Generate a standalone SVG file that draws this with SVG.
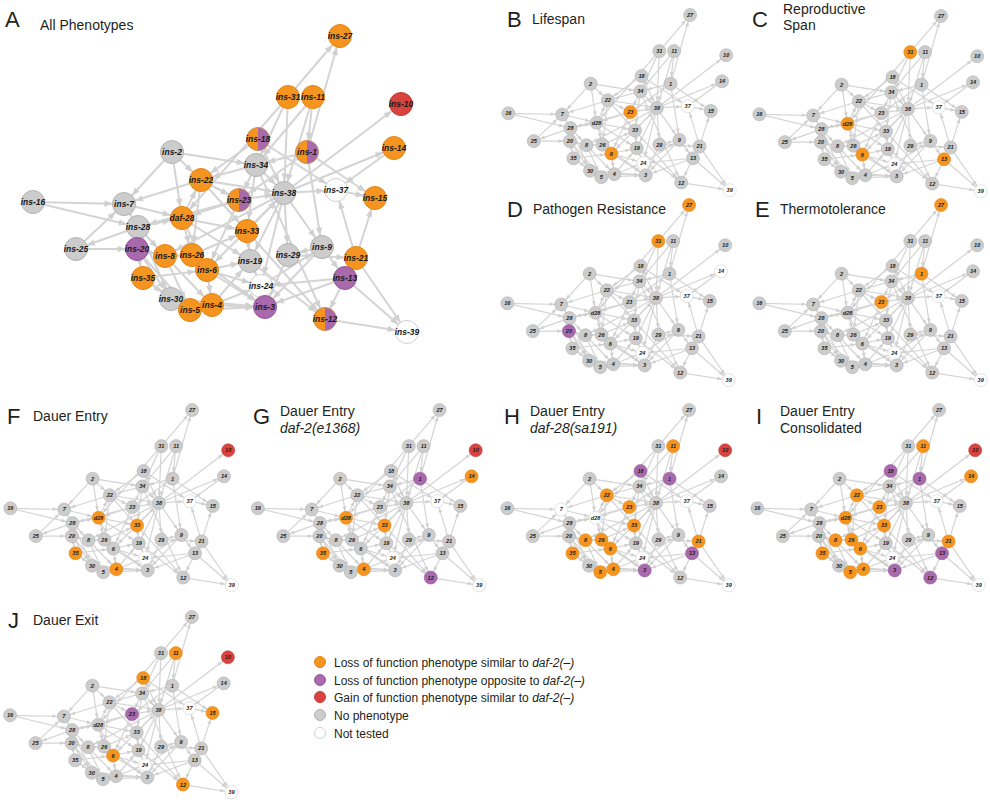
<svg xmlns="http://www.w3.org/2000/svg" xmlns:xlink="http://www.w3.org/1999/xlink" width="990" height="800" viewBox="0 0 990 800">
<defs>
<linearGradient id="half" x1="0" y1="0" x2="1" y2="0"><stop offset="0.5" stop-color="#F5951F"/><stop offset="0.5" stop-color="#A86AAD"/></linearGradient>
<marker id="arr" markerUnits="userSpaceOnUse" markerWidth="30" markerHeight="30" refX="19.5" refY="0" orient="auto" overflow="visible"><path d="M0,-3.2 L8,0 L0,3.2 Z" fill="#D0D0D0"/></marker>
</defs>
<style>
.lbl{font-family:"Liberation Sans",Arial,sans-serif;fill:#231f20}
.big{font-size:22px}
.ttl{font-size:14px}
.leg{font-size:12px}
.it{font-style:italic}
.nA text,.sm text{font-family:"Liberation Sans",Arial,sans-serif;font-weight:bold;font-style:italic;text-anchor:middle;dominant-baseline:central;fill:#1a1a1a}
.nA text{font-size:8.5px}
.sm text{font-size:9.5px}
circle{stroke-width:1}
.o{fill:#F5951F;stroke:#E38717}
.p{fill:#A86AAD;stroke:#96599B}
.r{fill:#D9433F;stroke:#C23A36}
.g{fill:#CCCCCC;stroke:#B3B3B3}
.w{fill:#FFFFFF;stroke:#D0D0D0}
.h{fill:url(#half);stroke:#C48C60}
#edges line{stroke:#D4D4D4;stroke-width:2;marker-end:url(#arr)}
</style>
<rect width="990" height="800" fill="#ffffff"/>

<!-- Panel labels -->
<g id="labels" class="lbl">
<text class="big" x="5" y="27">A</text><text class="ttl" x="40" y="30">All Phenotypes</text>
<text class="big" x="507" y="27">B</text><text class="ttl" x="532" y="24">Lifespan</text>
<text class="big" x="752" y="27">C</text><text class="ttl" x="783" y="14">Reproductive</text><text class="ttl" x="783" y="30">Span</text>
<text class="big" x="507" y="217">D</text><text class="ttl" x="533" y="214">Pathogen Resistance</text>
<text class="big" x="755" y="217">E</text><text class="ttl" x="780" y="214">Thermotolerance</text>
<text class="big" x="7" y="424">F</text><text class="ttl" x="33" y="421">Dauer Entry</text>
<text class="big" x="253" y="424">G</text><text class="ttl" x="280" y="416">Dauer Entry</text><text class="ttl it" x="280" y="433">daf-2(e1368)</text>
<text class="big" x="504" y="424">H</text><text class="ttl" x="530" y="416">Dauer Entry</text><text class="ttl it" x="530" y="433">daf-28(sa191)</text>
<text class="big" x="756" y="424">I</text><text class="ttl" x="780" y="416">Dauer Entry</text><text class="ttl" x="780" y="433">Consolidated</text>
<text class="big" x="8" y="628">J</text><text class="ttl" x="33" y="625">Dauer Exit</text>
</g>

<!-- Panel A connectors -->
<g id="edges">
<line x1="288" y1="97" x2="340" y2="36"/>
<line x1="307" y1="152" x2="340" y2="36"/>
<line x1="288" y1="97" x2="256" y2="165"/>
<line x1="288" y1="97" x2="284" y2="193"/>
<line x1="288" y1="97" x2="182" y2="218"/>
<line x1="313" y1="97" x2="256" y2="165"/>
<line x1="313" y1="97" x2="284" y2="193"/>
<line x1="313" y1="97" x2="307" y2="152"/>
<line x1="258" y1="139" x2="336" y2="190"/>
<line x1="258" y1="139" x2="284" y2="193"/>
<line x1="258" y1="139" x2="201" y2="180"/>
<line x1="307" y1="152" x2="375" y2="198"/>
<line x1="307" y1="152" x2="256" y2="165"/>
<line x1="307" y1="152" x2="322" y2="247"/>
<line x1="307" y1="152" x2="239" y2="200"/>
<line x1="284" y1="193" x2="401" y2="104"/>
<line x1="394" y1="148" x2="336" y2="190"/>
<line x1="284" y1="193" x2="394" y2="148"/>
<line x1="172" y1="152" x2="256" y2="165"/>
<line x1="172" y1="152" x2="201" y2="180"/>
<line x1="172" y1="152" x2="124" y2="204"/>
<line x1="172" y1="152" x2="182" y2="218"/>
<line x1="201" y1="180" x2="124" y2="204"/>
<line x1="201" y1="180" x2="239" y2="200"/>
<line x1="201" y1="180" x2="284" y2="193"/>
<line x1="201" y1="180" x2="192" y2="255"/>
<line x1="201" y1="180" x2="247" y2="231"/>
<line x1="256" y1="165" x2="284" y2="193"/>
<line x1="256" y1="165" x2="201" y2="180"/>
<line x1="256" y1="165" x2="239" y2="200"/>
<line x1="256" y1="165" x2="247" y2="231"/>
<line x1="256" y1="165" x2="325" y2="319"/>
<line x1="239" y1="200" x2="284" y2="193"/>
<line x1="239" y1="200" x2="182" y2="218"/>
<line x1="239" y1="200" x2="207" y2="270"/>
<line x1="239" y1="200" x2="138" y2="227"/>
<line x1="284" y1="193" x2="336" y2="190"/>
<line x1="284" y1="193" x2="322" y2="247"/>
<line x1="284" y1="193" x2="288" y2="255"/>
<line x1="284" y1="193" x2="250" y2="261"/>
<line x1="284" y1="193" x2="207" y2="270"/>
<line x1="284" y1="193" x2="261" y2="286"/>
<line x1="284" y1="193" x2="165" y2="256"/>
<line x1="336" y1="190" x2="375" y2="198"/>
<line x1="356" y1="258" x2="336" y2="190"/>
<line x1="356" y1="258" x2="375" y2="198"/>
<line x1="356" y1="258" x2="407" y2="332"/>
<line x1="33" y1="202" x2="124" y2="204"/>
<line x1="33" y1="202" x2="138" y2="227"/>
<line x1="76" y1="249" x2="124" y2="204"/>
<line x1="138" y1="227" x2="76" y2="249"/>
<line x1="76" y1="249" x2="137" y2="249"/>
<line x1="124" y1="204" x2="182" y2="218"/>
<line x1="124" y1="204" x2="138" y2="227"/>
<line x1="138" y1="227" x2="182" y2="218"/>
<line x1="138" y1="227" x2="165" y2="256"/>
<line x1="138" y1="227" x2="171" y2="299"/>
<line x1="182" y1="218" x2="201" y2="180"/>
<line x1="182" y1="218" x2="192" y2="255"/>
<line x1="182" y1="218" x2="207" y2="270"/>
<line x1="182" y1="218" x2="247" y2="231"/>
<line x1="182" y1="218" x2="250" y2="261"/>
<line x1="137" y1="249" x2="171" y2="299"/>
<line x1="137" y1="249" x2="165" y2="256"/>
<line x1="137" y1="249" x2="143" y2="278"/>
<line x1="137" y1="249" x2="190" y2="310"/>
<line x1="165" y1="256" x2="192" y2="255"/>
<line x1="165" y1="256" x2="212" y2="305"/>
<line x1="165" y1="256" x2="190" y2="310"/>
<line x1="192" y1="255" x2="207" y2="270"/>
<line x1="192" y1="255" x2="247" y2="231"/>
<line x1="192" y1="255" x2="265" y2="307"/>
<line x1="207" y1="270" x2="250" y2="261"/>
<line x1="207" y1="270" x2="261" y2="286"/>
<line x1="207" y1="270" x2="265" y2="307"/>
<line x1="207" y1="270" x2="212" y2="305"/>
<line x1="143" y1="278" x2="171" y2="299"/>
<line x1="143" y1="278" x2="207" y2="270"/>
<line x1="143" y1="278" x2="190" y2="310"/>
<line x1="171" y1="299" x2="190" y2="310"/>
<line x1="171" y1="299" x2="265" y2="307"/>
<line x1="190" y1="310" x2="265" y2="307"/>
<line x1="212" y1="305" x2="265" y2="307"/>
<line x1="212" y1="305" x2="250" y2="261"/>
<line x1="212" y1="305" x2="261" y2="286"/>
<line x1="247" y1="231" x2="250" y2="261"/>
<line x1="247" y1="231" x2="325" y2="319"/>
<line x1="247" y1="231" x2="284" y2="193"/>
<line x1="250" y1="261" x2="261" y2="286"/>
<line x1="250" y1="261" x2="325" y2="319"/>
<line x1="288" y1="255" x2="265" y2="307"/>
<line x1="288" y1="255" x2="356" y2="258"/>
<line x1="322" y1="247" x2="288" y2="255"/>
<line x1="322" y1="247" x2="345" y2="278"/>
<line x1="322" y1="247" x2="265" y2="307"/>
<line x1="261" y1="286" x2="322" y2="247"/>
<line x1="345" y1="278" x2="325" y2="319"/>
<line x1="345" y1="278" x2="407" y2="332"/>
<line x1="345" y1="278" x2="265" y2="307"/>
<line x1="345" y1="278" x2="261" y2="286"/>
<line x1="325" y1="319" x2="407" y2="332"/>
</g>

<!-- Panel A nodes -->
<g id="panelA-nodes" class="nA">
<g id="A-ins-27"><circle class="o" cx="340" cy="36" r="11.5"/><text x="340" y="36">ins-27</text></g>
<g id="A-ins-31"><circle class="o" cx="288" cy="97" r="11.5"/><text x="288" y="97">ins-31</text></g>
<g id="A-ins-11"><circle class="o" cx="313" cy="97" r="11.5"/><text x="313" y="97">ins-11</text></g>
<g id="A-ins-10"><circle class="r" cx="401" cy="104" r="11.5"/><text x="401" y="104">ins-10</text></g>
<g id="A-ins-18"><circle class="h" cx="258" cy="139" r="11.5"/><text x="258" y="139">ins-18</text></g>
<g id="A-ins-1"><circle class="h" cx="307" cy="152" r="11.5"/><text x="307" y="152">ins-1</text></g>
<g id="A-ins-14"><circle class="o" cx="394" cy="148" r="11.5"/><text x="394" y="148">ins-14</text></g>
<g id="A-ins-2"><circle class="g" cx="172" cy="152" r="11.5"/><text x="172" y="152">ins-2</text></g>
<g id="A-ins-34"><circle class="g" cx="256" cy="165" r="11.5"/><text x="256" y="165">ins-34</text></g>
<g id="A-ins-22"><circle class="o" cx="201" cy="180" r="11.5"/><text x="201" y="180">ins-22</text></g>
<g id="A-ins-23"><circle class="h" cx="239" cy="200" r="11.5"/><text x="239" y="200">ins-23</text></g>
<g id="A-ins-38"><circle class="g" cx="284" cy="193" r="11.5"/><text x="284" y="193">ins-38</text></g>
<g id="A-ins-37"><circle class="w" cx="336" cy="190" r="11.5"/><text x="336" y="190">ins-37</text></g>
<g id="A-ins-15"><circle class="o" cx="375" cy="198" r="11.5"/><text x="375" y="198">ins-15</text></g>
<g id="A-ins-16"><circle class="g" cx="33" cy="202" r="11.5"/><text x="33" y="202">ins-16</text></g>
<g id="A-ins-7"><circle class="g" cx="124" cy="204" r="11.5"/><text x="124" y="204">ins-7</text></g>
<g id="A-ins-28"><circle class="g" cx="138" cy="227" r="11.5"/><text x="138" y="227">ins-28</text></g>
<g id="A-daf-28"><circle class="o" cx="182" cy="218" r="11.5"/><text x="182" y="218">daf-28</text></g>
<g id="A-ins-33"><circle class="o" cx="247" cy="231" r="11.5"/><text x="247" y="231">ins-33</text></g>
<g id="A-ins-25"><circle class="g" cx="76" cy="249" r="11.5"/><text x="76" y="249">ins-25</text></g>
<g id="A-ins-20"><circle class="p" cx="137" cy="249" r="11.5"/><text x="137" y="249">ins-20</text></g>
<g id="A-ins-8"><circle class="o" cx="165" cy="256" r="11.5"/><text x="165" y="256">ins-8</text></g>
<g id="A-ins-26"><circle class="o" cx="192" cy="255" r="11.5"/><text x="192" y="255">ins-26</text></g>
<g id="A-ins-6"><circle class="o" cx="207" cy="270" r="11.5"/><text x="207" y="270">ins-6</text></g>
<g id="A-ins-19"><circle class="g" cx="250" cy="261" r="11.5"/><text x="250" y="261">ins-19</text></g>
<g id="A-ins-29"><circle class="g" cx="288" cy="255" r="11.5"/><text x="288" y="255">ins-29</text></g>
<g id="A-ins-9"><circle class="g" cx="322" cy="247" r="11.5"/><text x="322" y="247">ins-9</text></g>
<g id="A-ins-21"><circle class="o" cx="356" cy="258" r="11.5"/><text x="356" y="258">ins-21</text></g>
<g id="A-ins-13"><circle class="p" cx="345" cy="278" r="11.5"/><text x="345" y="278">ins-13</text></g>
<g id="A-ins-35"><circle class="o" cx="143" cy="278" r="11.5"/><text x="143" y="278">ins-35</text></g>
<g id="A-ins-24"><circle class="w" cx="261" cy="286" r="11.5"/><text x="261" y="286">ins-24</text></g>
<g id="A-ins-30"><circle class="g" cx="171" cy="299" r="11.5"/><text x="171" y="299">ins-30</text></g>
<g id="A-ins-4"><circle class="o" cx="212" cy="305" r="11.5"/><text x="212" y="305">ins-4</text></g>
<g id="A-ins-5"><circle class="o" cx="190" cy="310" r="11.5"/><text x="190" y="310">ins-5</text></g>
<g id="A-ins-3"><circle class="p" cx="265" cy="307" r="11.5"/><text x="265" y="307">ins-3</text></g>
<g id="A-ins-12"><circle class="h" cx="325" cy="319" r="11.5"/><text x="325" y="319">ins-12</text></g>
<g id="A-ins-39"><circle class="w" cx="407" cy="332" r="11.5"/><text x="407" y="332">ins-39</text></g>
</g>

<!-- Panel B -->
<g id="panelB" class="sm" transform="translate(488.8,-6.3) scale(0.592)">
<g id="B-connectors"><use href="#edges" xlink:href="#edges"/></g>
<g id="B-27"><circle class="g" cx="340" cy="36" r="11"/><text x="340" y="36">27</text></g>
<g id="B-31"><circle class="g" cx="288" cy="97" r="11"/><text x="288" y="97">31</text></g>
<g id="B-11"><circle class="g" cx="313" cy="97" r="11"/><text x="313" y="97">11</text></g>
<g id="B-10"><circle class="g" cx="401" cy="104" r="11"/><text x="401" y="104">10</text></g>
<g id="B-18"><circle class="g" cx="258" cy="139" r="11"/><text x="258" y="139">18</text></g>
<g id="B-1"><circle class="g" cx="307" cy="152" r="11"/><text x="307" y="152">1</text></g>
<g id="B-14"><circle class="g" cx="394" cy="148" r="11"/><text x="394" y="148">14</text></g>
<g id="B-2"><circle class="g" cx="172" cy="152" r="11"/><text x="172" y="152">2</text></g>
<g id="B-34"><circle class="g" cx="256" cy="165" r="11"/><text x="256" y="165">34</text></g>
<g id="B-22"><circle class="g" cx="201" cy="180" r="11"/><text x="201" y="180">22</text></g>
<g id="B-23"><circle class="o" cx="239" cy="200" r="11"/><text x="239" y="200">23</text></g>
<g id="B-38"><circle class="g" cx="284" cy="193" r="11"/><text x="284" y="193">38</text></g>
<g id="B-37"><circle class="w" cx="336" cy="190" r="11"/><text x="336" y="190">37</text></g>
<g id="B-15"><circle class="g" cx="375" cy="198" r="11"/><text x="375" y="198">15</text></g>
<g id="B-16"><circle class="g" cx="33" cy="202" r="11"/><text x="33" y="202">16</text></g>
<g id="B-7"><circle class="g" cx="124" cy="204" r="11"/><text x="124" y="204">7</text></g>
<g id="B-28"><circle class="g" cx="138" cy="227" r="11"/><text x="138" y="227">28</text></g>
<g id="B-d28"><circle class="g" cx="182" cy="218" r="11"/><text x="182" y="218">d28</text></g>
<g id="B-33"><circle class="g" cx="247" cy="231" r="11"/><text x="247" y="231">33</text></g>
<g id="B-25"><circle class="g" cx="76" cy="249" r="11"/><text x="76" y="249">25</text></g>
<g id="B-20"><circle class="g" cx="137" cy="249" r="11"/><text x="137" y="249">20</text></g>
<g id="B-8"><circle class="g" cx="165" cy="256" r="11"/><text x="165" y="256">8</text></g>
<g id="B-26"><circle class="g" cx="192" cy="255" r="11"/><text x="192" y="255">26</text></g>
<g id="B-6"><circle class="o" cx="207" cy="270" r="11"/><text x="207" y="270">6</text></g>
<g id="B-19"><circle class="g" cx="250" cy="261" r="11"/><text x="250" y="261">19</text></g>
<g id="B-29"><circle class="g" cx="288" cy="255" r="11"/><text x="288" y="255">29</text></g>
<g id="B-9"><circle class="g" cx="322" cy="247" r="11"/><text x="322" y="247">9</text></g>
<g id="B-21"><circle class="g" cx="356" cy="258" r="11"/><text x="356" y="258">21</text></g>
<g id="B-13"><circle class="g" cx="345" cy="278" r="11"/><text x="345" y="278">13</text></g>
<g id="B-35"><circle class="g" cx="143" cy="278" r="11"/><text x="143" y="278">35</text></g>
<g id="B-24"><circle class="w" cx="261" cy="286" r="11"/><text x="261" y="286">24</text></g>
<g id="B-30"><circle class="g" cx="171" cy="299" r="11"/><text x="171" y="299">30</text></g>
<g id="B-4"><circle class="g" cx="212" cy="305" r="11"/><text x="212" y="305">4</text></g>
<g id="B-5"><circle class="g" cx="190" cy="310" r="11"/><text x="190" y="310">5</text></g>
<g id="B-3"><circle class="g" cx="265" cy="307" r="11"/><text x="265" y="307">3</text></g>
<g id="B-12"><circle class="g" cx="325" cy="319" r="11"/><text x="325" y="319">12</text></g>
<g id="B-39"><circle class="w" cx="407" cy="332" r="11"/><text x="407" y="332">39</text></g>
</g>

<!-- Panel C -->
<g id="panelC" class="sm" transform="translate(739.8,-5.3) scale(0.592)">
<g id="C-connectors"><use href="#edges" xlink:href="#edges"/></g>
<g id="C-27"><circle class="g" cx="340" cy="36" r="11"/><text x="340" y="36">27</text></g>
<g id="C-31"><circle class="o" cx="288" cy="97" r="11"/><text x="288" y="97">31</text></g>
<g id="C-11"><circle class="g" cx="313" cy="97" r="11"/><text x="313" y="97">11</text></g>
<g id="C-10"><circle class="g" cx="401" cy="104" r="11"/><text x="401" y="104">10</text></g>
<g id="C-18"><circle class="g" cx="258" cy="139" r="11"/><text x="258" y="139">18</text></g>
<g id="C-1"><circle class="g" cx="307" cy="152" r="11"/><text x="307" y="152">1</text></g>
<g id="C-14"><circle class="g" cx="394" cy="148" r="11"/><text x="394" y="148">14</text></g>
<g id="C-2"><circle class="g" cx="172" cy="152" r="11"/><text x="172" y="152">2</text></g>
<g id="C-34"><circle class="g" cx="256" cy="165" r="11"/><text x="256" y="165">34</text></g>
<g id="C-22"><circle class="g" cx="201" cy="180" r="11"/><text x="201" y="180">22</text></g>
<g id="C-23"><circle class="g" cx="239" cy="200" r="11"/><text x="239" y="200">23</text></g>
<g id="C-38"><circle class="g" cx="284" cy="193" r="11"/><text x="284" y="193">38</text></g>
<g id="C-37"><circle class="w" cx="336" cy="190" r="11"/><text x="336" y="190">37</text></g>
<g id="C-15"><circle class="g" cx="375" cy="198" r="11"/><text x="375" y="198">15</text></g>
<g id="C-16"><circle class="g" cx="33" cy="202" r="11"/><text x="33" y="202">16</text></g>
<g id="C-7"><circle class="g" cx="124" cy="204" r="11"/><text x="124" y="204">7</text></g>
<g id="C-28"><circle class="g" cx="138" cy="227" r="11"/><text x="138" y="227">28</text></g>
<g id="C-d28"><circle class="o" cx="182" cy="218" r="11"/><text x="182" y="218">d28</text></g>
<g id="C-33"><circle class="g" cx="247" cy="231" r="11"/><text x="247" y="231">33</text></g>
<g id="C-25"><circle class="g" cx="76" cy="249" r="11"/><text x="76" y="249">25</text></g>
<g id="C-20"><circle class="g" cx="137" cy="249" r="11"/><text x="137" y="249">20</text></g>
<g id="C-8"><circle class="g" cx="165" cy="256" r="11"/><text x="165" y="256">8</text></g>
<g id="C-26"><circle class="g" cx="192" cy="255" r="11"/><text x="192" y="255">26</text></g>
<g id="C-6"><circle class="o" cx="207" cy="270" r="11"/><text x="207" y="270">6</text></g>
<g id="C-19"><circle class="g" cx="250" cy="261" r="11"/><text x="250" y="261">19</text></g>
<g id="C-29"><circle class="g" cx="288" cy="255" r="11"/><text x="288" y="255">29</text></g>
<g id="C-9"><circle class="g" cx="322" cy="247" r="11"/><text x="322" y="247">9</text></g>
<g id="C-21"><circle class="g" cx="356" cy="258" r="11"/><text x="356" y="258">21</text></g>
<g id="C-13"><circle class="o" cx="345" cy="278" r="11"/><text x="345" y="278">13</text></g>
<g id="C-35"><circle class="g" cx="143" cy="278" r="11"/><text x="143" y="278">35</text></g>
<g id="C-24"><circle class="w" cx="261" cy="286" r="11"/><text x="261" y="286">24</text></g>
<g id="C-30"><circle class="g" cx="171" cy="299" r="11"/><text x="171" y="299">30</text></g>
<g id="C-4"><circle class="g" cx="212" cy="305" r="11"/><text x="212" y="305">4</text></g>
<g id="C-5"><circle class="g" cx="190" cy="310" r="11"/><text x="190" y="310">5</text></g>
<g id="C-3"><circle class="g" cx="265" cy="307" r="11"/><text x="265" y="307">3</text></g>
<g id="C-12"><circle class="g" cx="325" cy="319" r="11"/><text x="325" y="319">12</text></g>
<g id="C-39"><circle class="w" cx="407" cy="332" r="11"/><text x="407" y="332">39</text></g>
</g>

<!-- Panel D -->
<g id="panelD" class="sm" transform="translate(487.8,183.7) scale(0.592)">
<g id="D-connectors"><use href="#edges" xlink:href="#edges"/></g>
<g id="D-27"><circle class="o" cx="340" cy="36" r="11"/><text x="340" y="36">27</text></g>
<g id="D-31"><circle class="o" cx="288" cy="97" r="11"/><text x="288" y="97">31</text></g>
<g id="D-11"><circle class="g" cx="313" cy="97" r="11"/><text x="313" y="97">11</text></g>
<g id="D-10"><circle class="g" cx="401" cy="104" r="11"/><text x="401" y="104">10</text></g>
<g id="D-18"><circle class="g" cx="258" cy="139" r="11"/><text x="258" y="139">18</text></g>
<g id="D-1"><circle class="g" cx="307" cy="152" r="11"/><text x="307" y="152">1</text></g>
<g id="D-14"><circle class="w" cx="394" cy="148" r="11"/><text x="394" y="148">14</text></g>
<g id="D-2"><circle class="g" cx="172" cy="152" r="11"/><text x="172" y="152">2</text></g>
<g id="D-34"><circle class="g" cx="256" cy="165" r="11"/><text x="256" y="165">34</text></g>
<g id="D-22"><circle class="g" cx="201" cy="180" r="11"/><text x="201" y="180">22</text></g>
<g id="D-23"><circle class="g" cx="239" cy="200" r="11"/><text x="239" y="200">23</text></g>
<g id="D-38"><circle class="g" cx="284" cy="193" r="11"/><text x="284" y="193">38</text></g>
<g id="D-37"><circle class="w" cx="336" cy="190" r="11"/><text x="336" y="190">37</text></g>
<g id="D-15"><circle class="g" cx="375" cy="198" r="11"/><text x="375" y="198">15</text></g>
<g id="D-16"><circle class="g" cx="33" cy="202" r="11"/><text x="33" y="202">16</text></g>
<g id="D-7"><circle class="g" cx="124" cy="204" r="11"/><text x="124" y="204">7</text></g>
<g id="D-28"><circle class="g" cx="138" cy="227" r="11"/><text x="138" y="227">28</text></g>
<g id="D-d28"><circle class="g" cx="182" cy="218" r="11"/><text x="182" y="218">d28</text></g>
<g id="D-33"><circle class="g" cx="247" cy="231" r="11"/><text x="247" y="231">33</text></g>
<g id="D-25"><circle class="g" cx="76" cy="249" r="11"/><text x="76" y="249">25</text></g>
<g id="D-20"><circle class="p" cx="137" cy="249" r="11"/><text x="137" y="249">20</text></g>
<g id="D-8"><circle class="g" cx="165" cy="256" r="11"/><text x="165" y="256">8</text></g>
<g id="D-26"><circle class="g" cx="192" cy="255" r="11"/><text x="192" y="255">26</text></g>
<g id="D-6"><circle class="g" cx="207" cy="270" r="11"/><text x="207" y="270">6</text></g>
<g id="D-19"><circle class="g" cx="250" cy="261" r="11"/><text x="250" y="261">19</text></g>
<g id="D-29"><circle class="g" cx="288" cy="255" r="11"/><text x="288" y="255">29</text></g>
<g id="D-9"><circle class="g" cx="322" cy="247" r="11"/><text x="322" y="247">9</text></g>
<g id="D-21"><circle class="g" cx="356" cy="258" r="11"/><text x="356" y="258">21</text></g>
<g id="D-13"><circle class="g" cx="345" cy="278" r="11"/><text x="345" y="278">13</text></g>
<g id="D-35"><circle class="g" cx="143" cy="278" r="11"/><text x="143" y="278">35</text></g>
<g id="D-24"><circle class="w" cx="261" cy="286" r="11"/><text x="261" y="286">24</text></g>
<g id="D-30"><circle class="g" cx="171" cy="299" r="11"/><text x="171" y="299">30</text></g>
<g id="D-4"><circle class="g" cx="212" cy="305" r="11"/><text x="212" y="305">4</text></g>
<g id="D-5"><circle class="g" cx="190" cy="310" r="11"/><text x="190" y="310">5</text></g>
<g id="D-3"><circle class="g" cx="265" cy="307" r="11"/><text x="265" y="307">3</text></g>
<g id="D-12"><circle class="g" cx="325" cy="319" r="11"/><text x="325" y="319">12</text></g>
<g id="D-39"><circle class="w" cx="407" cy="332" r="11"/><text x="407" y="332">39</text></g>
</g>

<!-- Panel E -->
<g id="panelE" class="sm" transform="translate(739.8,183.7) scale(0.592)">
<g id="E-connectors"><use href="#edges" xlink:href="#edges"/></g>
<g id="E-27"><circle class="o" cx="340" cy="36" r="11"/><text x="340" y="36">27</text></g>
<g id="E-31"><circle class="g" cx="288" cy="97" r="11"/><text x="288" y="97">31</text></g>
<g id="E-11"><circle class="g" cx="313" cy="97" r="11"/><text x="313" y="97">11</text></g>
<g id="E-10"><circle class="g" cx="401" cy="104" r="11"/><text x="401" y="104">10</text></g>
<g id="E-18"><circle class="g" cx="258" cy="139" r="11"/><text x="258" y="139">18</text></g>
<g id="E-1"><circle class="o" cx="307" cy="152" r="11"/><text x="307" y="152">1</text></g>
<g id="E-14"><circle class="g" cx="394" cy="148" r="11"/><text x="394" y="148">14</text></g>
<g id="E-2"><circle class="g" cx="172" cy="152" r="11"/><text x="172" y="152">2</text></g>
<g id="E-34"><circle class="g" cx="256" cy="165" r="11"/><text x="256" y="165">34</text></g>
<g id="E-22"><circle class="g" cx="201" cy="180" r="11"/><text x="201" y="180">22</text></g>
<g id="E-23"><circle class="o" cx="239" cy="200" r="11"/><text x="239" y="200">23</text></g>
<g id="E-38"><circle class="g" cx="284" cy="193" r="11"/><text x="284" y="193">38</text></g>
<g id="E-37"><circle class="w" cx="336" cy="190" r="11"/><text x="336" y="190">37</text></g>
<g id="E-15"><circle class="g" cx="375" cy="198" r="11"/><text x="375" y="198">15</text></g>
<g id="E-16"><circle class="g" cx="33" cy="202" r="11"/><text x="33" y="202">16</text></g>
<g id="E-7"><circle class="g" cx="124" cy="204" r="11"/><text x="124" y="204">7</text></g>
<g id="E-28"><circle class="g" cx="138" cy="227" r="11"/><text x="138" y="227">28</text></g>
<g id="E-d28"><circle class="g" cx="182" cy="218" r="11"/><text x="182" y="218">d28</text></g>
<g id="E-33"><circle class="g" cx="247" cy="231" r="11"/><text x="247" y="231">33</text></g>
<g id="E-25"><circle class="g" cx="76" cy="249" r="11"/><text x="76" y="249">25</text></g>
<g id="E-20"><circle class="g" cx="137" cy="249" r="11"/><text x="137" y="249">20</text></g>
<g id="E-8"><circle class="g" cx="165" cy="256" r="11"/><text x="165" y="256">8</text></g>
<g id="E-26"><circle class="g" cx="192" cy="255" r="11"/><text x="192" y="255">26</text></g>
<g id="E-6"><circle class="g" cx="207" cy="270" r="11"/><text x="207" y="270">6</text></g>
<g id="E-19"><circle class="g" cx="250" cy="261" r="11"/><text x="250" y="261">19</text></g>
<g id="E-29"><circle class="g" cx="288" cy="255" r="11"/><text x="288" y="255">29</text></g>
<g id="E-9"><circle class="g" cx="322" cy="247" r="11"/><text x="322" y="247">9</text></g>
<g id="E-21"><circle class="g" cx="356" cy="258" r="11"/><text x="356" y="258">21</text></g>
<g id="E-13"><circle class="g" cx="345" cy="278" r="11"/><text x="345" y="278">13</text></g>
<g id="E-35"><circle class="g" cx="143" cy="278" r="11"/><text x="143" y="278">35</text></g>
<g id="E-24"><circle class="w" cx="261" cy="286" r="11"/><text x="261" y="286">24</text></g>
<g id="E-30"><circle class="g" cx="171" cy="299" r="11"/><text x="171" y="299">30</text></g>
<g id="E-4"><circle class="g" cx="212" cy="305" r="11"/><text x="212" y="305">4</text></g>
<g id="E-5"><circle class="g" cx="190" cy="310" r="11"/><text x="190" y="310">5</text></g>
<g id="E-3"><circle class="g" cx="265" cy="307" r="11"/><text x="265" y="307">3</text></g>
<g id="E-12"><circle class="g" cx="325" cy="319" r="11"/><text x="325" y="319">12</text></g>
<g id="E-39"><circle class="w" cx="407" cy="332" r="11"/><text x="407" y="332">39</text></g>
</g>

<!-- Panel F -->
<g id="panelF" class="sm" transform="translate(-9.2,388.7) scale(0.592)">
<g id="F-connectors"><use href="#edges" xlink:href="#edges"/></g>
<g id="F-27"><circle class="g" cx="340" cy="36" r="11"/><text x="340" y="36">27</text></g>
<g id="F-31"><circle class="g" cx="288" cy="97" r="11"/><text x="288" y="97">31</text></g>
<g id="F-11"><circle class="g" cx="313" cy="97" r="11"/><text x="313" y="97">11</text></g>
<g id="F-10"><circle class="r" cx="401" cy="104" r="11"/><text x="401" y="104">10</text></g>
<g id="F-18"><circle class="g" cx="258" cy="139" r="11"/><text x="258" y="139">18</text></g>
<g id="F-1"><circle class="g" cx="307" cy="152" r="11"/><text x="307" y="152">1</text></g>
<g id="F-14"><circle class="g" cx="394" cy="148" r="11"/><text x="394" y="148">14</text></g>
<g id="F-2"><circle class="g" cx="172" cy="152" r="11"/><text x="172" y="152">2</text></g>
<g id="F-34"><circle class="g" cx="256" cy="165" r="11"/><text x="256" y="165">34</text></g>
<g id="F-22"><circle class="g" cx="201" cy="180" r="11"/><text x="201" y="180">22</text></g>
<g id="F-23"><circle class="g" cx="239" cy="200" r="11"/><text x="239" y="200">23</text></g>
<g id="F-38"><circle class="g" cx="284" cy="193" r="11"/><text x="284" y="193">38</text></g>
<g id="F-37"><circle class="w" cx="336" cy="190" r="11"/><text x="336" y="190">37</text></g>
<g id="F-15"><circle class="g" cx="375" cy="198" r="11"/><text x="375" y="198">15</text></g>
<g id="F-16"><circle class="g" cx="33" cy="202" r="11"/><text x="33" y="202">16</text></g>
<g id="F-7"><circle class="g" cx="124" cy="204" r="11"/><text x="124" y="204">7</text></g>
<g id="F-28"><circle class="g" cx="138" cy="227" r="11"/><text x="138" y="227">28</text></g>
<g id="F-d28"><circle class="o" cx="182" cy="218" r="11"/><text x="182" y="218">d28</text></g>
<g id="F-33"><circle class="o" cx="247" cy="231" r="11"/><text x="247" y="231">33</text></g>
<g id="F-25"><circle class="g" cx="76" cy="249" r="11"/><text x="76" y="249">25</text></g>
<g id="F-20"><circle class="g" cx="137" cy="249" r="11"/><text x="137" y="249">20</text></g>
<g id="F-8"><circle class="g" cx="165" cy="256" r="11"/><text x="165" y="256">8</text></g>
<g id="F-26"><circle class="g" cx="192" cy="255" r="11"/><text x="192" y="255">26</text></g>
<g id="F-6"><circle class="g" cx="207" cy="270" r="11"/><text x="207" y="270">6</text></g>
<g id="F-19"><circle class="g" cx="250" cy="261" r="11"/><text x="250" y="261">19</text></g>
<g id="F-29"><circle class="g" cx="288" cy="255" r="11"/><text x="288" y="255">29</text></g>
<g id="F-9"><circle class="g" cx="322" cy="247" r="11"/><text x="322" y="247">9</text></g>
<g id="F-21"><circle class="g" cx="356" cy="258" r="11"/><text x="356" y="258">21</text></g>
<g id="F-13"><circle class="g" cx="345" cy="278" r="11"/><text x="345" y="278">13</text></g>
<g id="F-35"><circle class="o" cx="143" cy="278" r="11"/><text x="143" y="278">35</text></g>
<g id="F-24"><circle class="w" cx="261" cy="286" r="11"/><text x="261" y="286">24</text></g>
<g id="F-30"><circle class="g" cx="171" cy="299" r="11"/><text x="171" y="299">30</text></g>
<g id="F-4"><circle class="o" cx="212" cy="305" r="11"/><text x="212" y="305">4</text></g>
<g id="F-5"><circle class="g" cx="190" cy="310" r="11"/><text x="190" y="310">5</text></g>
<g id="F-3"><circle class="g" cx="265" cy="307" r="11"/><text x="265" y="307">3</text></g>
<g id="F-12"><circle class="g" cx="325" cy="319" r="11"/><text x="325" y="319">12</text></g>
<g id="F-39"><circle class="w" cx="407" cy="332" r="11"/><text x="407" y="332">39</text></g>
</g>

<!-- Panel G -->
<g id="panelG" class="sm" transform="translate(238.3,388.7) scale(0.592)">
<g id="G-connectors"><use href="#edges" xlink:href="#edges"/></g>
<g id="G-27"><circle class="g" cx="340" cy="36" r="11"/><text x="340" y="36">27</text></g>
<g id="G-31"><circle class="g" cx="288" cy="97" r="11"/><text x="288" y="97">31</text></g>
<g id="G-11"><circle class="g" cx="313" cy="97" r="11"/><text x="313" y="97">11</text></g>
<g id="G-10"><circle class="r" cx="401" cy="104" r="11"/><text x="401" y="104">10</text></g>
<g id="G-18"><circle class="g" cx="258" cy="139" r="11"/><text x="258" y="139">18</text></g>
<g id="G-1"><circle class="p" cx="307" cy="152" r="11"/><text x="307" y="152">1</text></g>
<g id="G-14"><circle class="o" cx="394" cy="148" r="11"/><text x="394" y="148">14</text></g>
<g id="G-2"><circle class="g" cx="172" cy="152" r="11"/><text x="172" y="152">2</text></g>
<g id="G-34"><circle class="g" cx="256" cy="165" r="11"/><text x="256" y="165">34</text></g>
<g id="G-22"><circle class="g" cx="201" cy="180" r="11"/><text x="201" y="180">22</text></g>
<g id="G-23"><circle class="g" cx="239" cy="200" r="11"/><text x="239" y="200">23</text></g>
<g id="G-38"><circle class="g" cx="284" cy="193" r="11"/><text x="284" y="193">38</text></g>
<g id="G-37"><circle class="w" cx="336" cy="190" r="11"/><text x="336" y="190">37</text></g>
<g id="G-15"><circle class="g" cx="375" cy="198" r="11"/><text x="375" y="198">15</text></g>
<g id="G-16"><circle class="g" cx="33" cy="202" r="11"/><text x="33" y="202">16</text></g>
<g id="G-7"><circle class="g" cx="124" cy="204" r="11"/><text x="124" y="204">7</text></g>
<g id="G-28"><circle class="g" cx="138" cy="227" r="11"/><text x="138" y="227">28</text></g>
<g id="G-d28"><circle class="o" cx="182" cy="218" r="11"/><text x="182" y="218">d28</text></g>
<g id="G-33"><circle class="o" cx="247" cy="231" r="11"/><text x="247" y="231">33</text></g>
<g id="G-25"><circle class="g" cx="76" cy="249" r="11"/><text x="76" y="249">25</text></g>
<g id="G-20"><circle class="g" cx="137" cy="249" r="11"/><text x="137" y="249">20</text></g>
<g id="G-8"><circle class="g" cx="165" cy="256" r="11"/><text x="165" y="256">8</text></g>
<g id="G-26"><circle class="g" cx="192" cy="255" r="11"/><text x="192" y="255">26</text></g>
<g id="G-6"><circle class="g" cx="207" cy="270" r="11"/><text x="207" y="270">6</text></g>
<g id="G-19"><circle class="g" cx="250" cy="261" r="11"/><text x="250" y="261">19</text></g>
<g id="G-29"><circle class="g" cx="288" cy="255" r="11"/><text x="288" y="255">29</text></g>
<g id="G-9"><circle class="g" cx="322" cy="247" r="11"/><text x="322" y="247">9</text></g>
<g id="G-21"><circle class="g" cx="356" cy="258" r="11"/><text x="356" y="258">21</text></g>
<g id="G-13"><circle class="g" cx="345" cy="278" r="11"/><text x="345" y="278">13</text></g>
<g id="G-35"><circle class="o" cx="143" cy="278" r="11"/><text x="143" y="278">35</text></g>
<g id="G-24"><circle class="w" cx="261" cy="286" r="11"/><text x="261" y="286">24</text></g>
<g id="G-30"><circle class="g" cx="171" cy="299" r="11"/><text x="171" y="299">30</text></g>
<g id="G-4"><circle class="o" cx="212" cy="305" r="11"/><text x="212" y="305">4</text></g>
<g id="G-5"><circle class="g" cx="190" cy="310" r="11"/><text x="190" y="310">5</text></g>
<g id="G-3"><circle class="g" cx="265" cy="307" r="11"/><text x="265" y="307">3</text></g>
<g id="G-12"><circle class="p" cx="325" cy="319" r="11"/><text x="325" y="319">12</text></g>
<g id="G-39"><circle class="w" cx="407" cy="332" r="11"/><text x="407" y="332">39</text></g>
</g>

<!-- Panel H -->
<g id="panelH" class="sm" transform="translate(487.8,388.7) scale(0.592)">
<g id="H-connectors"><use href="#edges" xlink:href="#edges"/></g>
<g id="H-27"><circle class="g" cx="340" cy="36" r="11"/><text x="340" y="36">27</text></g>
<g id="H-31"><circle class="g" cx="288" cy="97" r="11"/><text x="288" y="97">31</text></g>
<g id="H-11"><circle class="o" cx="313" cy="97" r="11"/><text x="313" y="97">11</text></g>
<g id="H-10"><circle class="r" cx="401" cy="104" r="11"/><text x="401" y="104">10</text></g>
<g id="H-18"><circle class="p" cx="258" cy="139" r="11"/><text x="258" y="139">18</text></g>
<g id="H-1"><circle class="p" cx="307" cy="152" r="11"/><text x="307" y="152">1</text></g>
<g id="H-14"><circle class="g" cx="394" cy="148" r="11"/><text x="394" y="148">14</text></g>
<g id="H-2"><circle class="g" cx="172" cy="152" r="11"/><text x="172" y="152">2</text></g>
<g id="H-34"><circle class="g" cx="256" cy="165" r="11"/><text x="256" y="165">34</text></g>
<g id="H-22"><circle class="o" cx="201" cy="180" r="11"/><text x="201" y="180">22</text></g>
<g id="H-23"><circle class="o" cx="239" cy="200" r="11"/><text x="239" y="200">23</text></g>
<g id="H-38"><circle class="g" cx="284" cy="193" r="11"/><text x="284" y="193">38</text></g>
<g id="H-37"><circle class="w" cx="336" cy="190" r="11"/><text x="336" y="190">37</text></g>
<g id="H-15"><circle class="g" cx="375" cy="198" r="11"/><text x="375" y="198">15</text></g>
<g id="H-16"><circle class="g" cx="33" cy="202" r="11"/><text x="33" y="202">16</text></g>
<g id="H-7"><circle class="w" cx="124" cy="204" r="11"/><text x="124" y="204">7</text></g>
<g id="H-28"><circle class="g" cx="138" cy="227" r="11"/><text x="138" y="227">28</text></g>
<g id="H-d28"><circle class="w" cx="182" cy="218" r="11"/><text x="182" y="218">d28</text></g>
<g id="H-33"><circle class="o" cx="247" cy="231" r="11"/><text x="247" y="231">33</text></g>
<g id="H-25"><circle class="g" cx="76" cy="249" r="11"/><text x="76" y="249">25</text></g>
<g id="H-20"><circle class="g" cx="137" cy="249" r="11"/><text x="137" y="249">20</text></g>
<g id="H-8"><circle class="o" cx="165" cy="256" r="11"/><text x="165" y="256">8</text></g>
<g id="H-26"><circle class="o" cx="192" cy="255" r="11"/><text x="192" y="255">26</text></g>
<g id="H-6"><circle class="o" cx="207" cy="270" r="11"/><text x="207" y="270">6</text></g>
<g id="H-19"><circle class="g" cx="250" cy="261" r="11"/><text x="250" y="261">19</text></g>
<g id="H-29"><circle class="g" cx="288" cy="255" r="11"/><text x="288" y="255">29</text></g>
<g id="H-9"><circle class="g" cx="322" cy="247" r="11"/><text x="322" y="247">9</text></g>
<g id="H-21"><circle class="o" cx="356" cy="258" r="11"/><text x="356" y="258">21</text></g>
<g id="H-13"><circle class="p" cx="345" cy="278" r="11"/><text x="345" y="278">13</text></g>
<g id="H-35"><circle class="o" cx="143" cy="278" r="11"/><text x="143" y="278">35</text></g>
<g id="H-24"><circle class="w" cx="261" cy="286" r="11"/><text x="261" y="286">24</text></g>
<g id="H-30"><circle class="g" cx="171" cy="299" r="11"/><text x="171" y="299">30</text></g>
<g id="H-4"><circle class="o" cx="212" cy="305" r="11"/><text x="212" y="305">4</text></g>
<g id="H-5"><circle class="o" cx="190" cy="310" r="11"/><text x="190" y="310">5</text></g>
<g id="H-3"><circle class="p" cx="265" cy="307" r="11"/><text x="265" y="307">3</text></g>
<g id="H-12"><circle class="g" cx="325" cy="319" r="11"/><text x="325" y="319">12</text></g>
<g id="H-39"><circle class="w" cx="407" cy="332" r="11"/><text x="407" y="332">39</text></g>
</g>

<!-- Panel I -->
<g id="panelI" class="sm" transform="translate(737.8,388.7) scale(0.592)">
<g id="I-connectors"><use href="#edges" xlink:href="#edges"/></g>
<g id="I-27"><circle class="g" cx="340" cy="36" r="11"/><text x="340" y="36">27</text></g>
<g id="I-31"><circle class="g" cx="288" cy="97" r="11"/><text x="288" y="97">31</text></g>
<g id="I-11"><circle class="o" cx="313" cy="97" r="11"/><text x="313" y="97">11</text></g>
<g id="I-10"><circle class="r" cx="401" cy="104" r="11"/><text x="401" y="104">10</text></g>
<g id="I-18"><circle class="p" cx="258" cy="139" r="11"/><text x="258" y="139">18</text></g>
<g id="I-1"><circle class="p" cx="307" cy="152" r="11"/><text x="307" y="152">1</text></g>
<g id="I-14"><circle class="o" cx="394" cy="148" r="11"/><text x="394" y="148">14</text></g>
<g id="I-2"><circle class="g" cx="172" cy="152" r="11"/><text x="172" y="152">2</text></g>
<g id="I-34"><circle class="g" cx="256" cy="165" r="11"/><text x="256" y="165">34</text></g>
<g id="I-22"><circle class="o" cx="201" cy="180" r="11"/><text x="201" y="180">22</text></g>
<g id="I-23"><circle class="o" cx="239" cy="200" r="11"/><text x="239" y="200">23</text></g>
<g id="I-38"><circle class="g" cx="284" cy="193" r="11"/><text x="284" y="193">38</text></g>
<g id="I-37"><circle class="w" cx="336" cy="190" r="11"/><text x="336" y="190">37</text></g>
<g id="I-15"><circle class="g" cx="375" cy="198" r="11"/><text x="375" y="198">15</text></g>
<g id="I-16"><circle class="g" cx="33" cy="202" r="11"/><text x="33" y="202">16</text></g>
<g id="I-7"><circle class="g" cx="124" cy="204" r="11"/><text x="124" y="204">7</text></g>
<g id="I-28"><circle class="g" cx="138" cy="227" r="11"/><text x="138" y="227">28</text></g>
<g id="I-d28"><circle class="o" cx="182" cy="218" r="11"/><text x="182" y="218">d28</text></g>
<g id="I-33"><circle class="o" cx="247" cy="231" r="11"/><text x="247" y="231">33</text></g>
<g id="I-25"><circle class="g" cx="76" cy="249" r="11"/><text x="76" y="249">25</text></g>
<g id="I-20"><circle class="g" cx="137" cy="249" r="11"/><text x="137" y="249">20</text></g>
<g id="I-8"><circle class="o" cx="165" cy="256" r="11"/><text x="165" y="256">8</text></g>
<g id="I-26"><circle class="o" cx="192" cy="255" r="11"/><text x="192" y="255">26</text></g>
<g id="I-6"><circle class="o" cx="207" cy="270" r="11"/><text x="207" y="270">6</text></g>
<g id="I-19"><circle class="g" cx="250" cy="261" r="11"/><text x="250" y="261">19</text></g>
<g id="I-29"><circle class="g" cx="288" cy="255" r="11"/><text x="288" y="255">29</text></g>
<g id="I-9"><circle class="g" cx="322" cy="247" r="11"/><text x="322" y="247">9</text></g>
<g id="I-21"><circle class="o" cx="356" cy="258" r="11"/><text x="356" y="258">21</text></g>
<g id="I-13"><circle class="p" cx="345" cy="278" r="11"/><text x="345" y="278">13</text></g>
<g id="I-35"><circle class="o" cx="143" cy="278" r="11"/><text x="143" y="278">35</text></g>
<g id="I-24"><circle class="w" cx="261" cy="286" r="11"/><text x="261" y="286">24</text></g>
<g id="I-30"><circle class="g" cx="171" cy="299" r="11"/><text x="171" y="299">30</text></g>
<g id="I-4"><circle class="o" cx="212" cy="305" r="11"/><text x="212" y="305">4</text></g>
<g id="I-5"><circle class="o" cx="190" cy="310" r="11"/><text x="190" y="310">5</text></g>
<g id="I-3"><circle class="p" cx="265" cy="307" r="11"/><text x="265" y="307">3</text></g>
<g id="I-12"><circle class="p" cx="325" cy="319" r="11"/><text x="325" y="319">12</text></g>
<g id="I-39"><circle class="w" cx="407" cy="332" r="11"/><text x="407" y="332">39</text></g>
</g>

<!-- Panel J -->
<g id="panelJ" class="sm" transform="translate(-9.5,595.7) scale(0.592)">
<g id="J-connectors"><use href="#edges" xlink:href="#edges"/></g>
<g id="J-27"><circle class="g" cx="340" cy="36" r="11"/><text x="340" y="36">27</text></g>
<g id="J-31"><circle class="g" cx="288" cy="97" r="11"/><text x="288" y="97">31</text></g>
<g id="J-11"><circle class="o" cx="313" cy="97" r="11"/><text x="313" y="97">11</text></g>
<g id="J-10"><circle class="r" cx="401" cy="104" r="11"/><text x="401" y="104">10</text></g>
<g id="J-18"><circle class="o" cx="258" cy="139" r="11"/><text x="258" y="139">18</text></g>
<g id="J-1"><circle class="g" cx="307" cy="152" r="11"/><text x="307" y="152">1</text></g>
<g id="J-14"><circle class="g" cx="394" cy="148" r="11"/><text x="394" y="148">14</text></g>
<g id="J-2"><circle class="g" cx="172" cy="152" r="11"/><text x="172" y="152">2</text></g>
<g id="J-34"><circle class="g" cx="256" cy="165" r="11"/><text x="256" y="165">34</text></g>
<g id="J-22"><circle class="g" cx="201" cy="180" r="11"/><text x="201" y="180">22</text></g>
<g id="J-23"><circle class="p" cx="239" cy="200" r="11"/><text x="239" y="200">23</text></g>
<g id="J-38"><circle class="g" cx="284" cy="193" r="11"/><text x="284" y="193">38</text></g>
<g id="J-37"><circle class="w" cx="336" cy="190" r="11"/><text x="336" y="190">37</text></g>
<g id="J-15"><circle class="o" cx="375" cy="198" r="11"/><text x="375" y="198">15</text></g>
<g id="J-16"><circle class="g" cx="33" cy="202" r="11"/><text x="33" y="202">16</text></g>
<g id="J-7"><circle class="g" cx="124" cy="204" r="11"/><text x="124" y="204">7</text></g>
<g id="J-28"><circle class="g" cx="138" cy="227" r="11"/><text x="138" y="227">28</text></g>
<g id="J-d28"><circle class="g" cx="182" cy="218" r="11"/><text x="182" y="218">d28</text></g>
<g id="J-33"><circle class="g" cx="247" cy="231" r="11"/><text x="247" y="231">33</text></g>
<g id="J-25"><circle class="g" cx="76" cy="249" r="11"/><text x="76" y="249">25</text></g>
<g id="J-20"><circle class="g" cx="137" cy="249" r="11"/><text x="137" y="249">20</text></g>
<g id="J-8"><circle class="g" cx="165" cy="256" r="11"/><text x="165" y="256">8</text></g>
<g id="J-26"><circle class="g" cx="192" cy="255" r="11"/><text x="192" y="255">26</text></g>
<g id="J-6"><circle class="o" cx="207" cy="270" r="11"/><text x="207" y="270">6</text></g>
<g id="J-19"><circle class="g" cx="250" cy="261" r="11"/><text x="250" y="261">19</text></g>
<g id="J-29"><circle class="g" cx="288" cy="255" r="11"/><text x="288" y="255">29</text></g>
<g id="J-9"><circle class="g" cx="322" cy="247" r="11"/><text x="322" y="247">9</text></g>
<g id="J-21"><circle class="g" cx="356" cy="258" r="11"/><text x="356" y="258">21</text></g>
<g id="J-13"><circle class="g" cx="345" cy="278" r="11"/><text x="345" y="278">13</text></g>
<g id="J-35"><circle class="g" cx="143" cy="278" r="11"/><text x="143" y="278">35</text></g>
<g id="J-24"><circle class="w" cx="261" cy="286" r="11"/><text x="261" y="286">24</text></g>
<g id="J-30"><circle class="g" cx="171" cy="299" r="11"/><text x="171" y="299">30</text></g>
<g id="J-4"><circle class="g" cx="212" cy="305" r="11"/><text x="212" y="305">4</text></g>
<g id="J-5"><circle class="g" cx="190" cy="310" r="11"/><text x="190" y="310">5</text></g>
<g id="J-3"><circle class="g" cx="265" cy="307" r="11"/><text x="265" y="307">3</text></g>
<g id="J-12"><circle class="o" cx="325" cy="319" r="11"/><text x="325" y="319">12</text></g>
<g id="J-39"><circle class="w" cx="407" cy="332" r="11"/><text x="407" y="332">39</text></g>
</g>

<!-- Legend -->
<g id="legend" class="lbl leg">
<g id="leg-1"><circle class="o" cx="320" cy="662" r="5.5"/><text x="334" y="666.5">Loss of function phenotype similar to <tspan class="it">daf-2(–)</tspan></text></g>
<g id="leg-2"><circle class="p" cx="320" cy="680" r="5.5"/><text x="334" y="684.5">Loss of function phenotype opposite to <tspan class="it">daf-2(–)</tspan></text></g>
<g id="leg-3"><circle class="r" cx="320" cy="697" r="5.5"/><text x="334" y="701.5">Gain of function phenotype similar to <tspan class="it">daf-2(–)</tspan></text></g>
<g id="leg-4"><circle class="g" cx="320" cy="715" r="5.5"/><text x="334" y="719.5">No phenotype</text></g>
<g id="leg-5"><circle class="w" cx="320" cy="733" r="5.5"/><text x="334" y="737.5">Not tested</text></g>
</g>
</svg>
